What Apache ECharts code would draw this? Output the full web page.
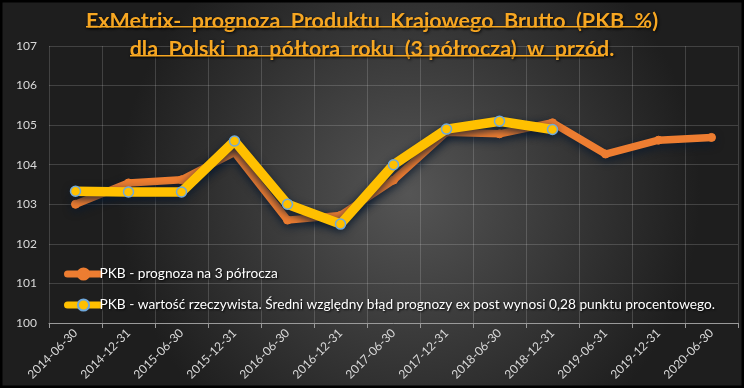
<!DOCTYPE html>
<html>
<head>
<meta charset="utf-8">
<script src="https://cdn.jsdelivr.net/npm/echarts@6/dist/echarts.min.js"></script>
<style>
html,body{margin:0;padding:0;background:#000;}
#c{width:744px;height:388px;}
</style>
</head>
<body>
<div id="c"></div>
<script>
var categories = ['2014-06-30','2014-12-31','2015-06-30','2015-12-31','2016-06-30','2016-12-31','2017-06-30','2017-12-31','2018-06-30','2018-12-31','2019-06-31','2019-12-31','2020-06-30'];
var prognoza = [103.0, 103.54, 103.62, 104.31, 102.6, 102.72, 103.61, 104.82, 104.78, 105.06, 104.27, 104.62, 104.69];
var rzeczywista = [103.33, 103.31, 103.31, 104.6, 103.0, 102.5, 104.0, 104.9, 105.1, 104.89, null, null, null];
var yTicks = {min: 100, max: 107, interval: 1};
var titleLines = ['ExMetrix-  prognoza  Produktu  Krajowego  Brutto  (PKB  %)', 'dla  Polski  na  półtora  roku  (3 półrocza)  w  przód.'];
var seriesNames = ['PKB - prognoza na 3 półrocza', 'PKB - wartość rzeczywista. Średni względny błąd prognozy ex post wynosi 0,28 punktu procentowego.'];

var chart = echarts.init(document.getElementById('c'));
var shadow = {shadowColor: 'rgba(10,25,45,0.9)', shadowBlur: 8, shadowOffsetY: 3};
var font = 'Lato, "Open Sans", sans-serif';
var titleStyle = {color: '#F7A722', fontSize: 21.5, fontWeight: 'bold', fontFamily: font,
  textShadowColor: 'rgba(0,0,0,0.85)', textShadowBlur: 3, textShadowOffsetX: 1, textShadowOffsetY: 1};
chart.setOption({
  backgroundColor: {
    type: 'radial', x: 0.55, y: 0.5, r: 0.75,
    colorStops: [{offset: 0, color: '#555555'}, {offset: 1, color: '#1e1e1e'}]
  },
  textStyle: {fontFamily: font},
  title: [
    {text: titleLines[0], left: 'center', top: 5, textStyle: titleStyle},
    {text: titleLines[1], left: 'center', top: 33, textStyle: titleStyle}
  ],
  graphic: [
    {type: 'rect', shape: {x: 86, y: 26, width: 559, height: 1.6}, style: {fill: '#F7A722', shadowColor: 'rgba(0,0,0,0.8)', shadowBlur: 2, shadowOffsetY: 1}, z: 10},
    {type: 'rect', shape: {x: 130, y: 55, width: 474, height: 1.6}, style: {fill: '#F7A722', shadowColor: 'rgba(0,0,0,0.8)', shadowBlur: 2, shadowOffsetY: 1}, z: 10},
    {type: 'rect', shape: {x: 1, y: 1, width: 742, height: 386}, style: {fill: 'none', stroke: '#000', lineWidth: 3}, z: 100, silent: true}
  ],
  grid: {left: 49, right: 6, top: 46, bottom: 65},
  legend: {
    orient: 'vertical', left: 59, top: 262, itemGap: 17,
    itemWidth: 32, itemHeight: 14,
    lineStyle: {width: 7, cap: 'round'},
    textStyle: {color: '#ffffff', fontSize: 13.7, padding: [0, 0, 0, -5],
      textShadowColor: 'rgba(0,0,0,0.9)', textShadowBlur: 2, textShadowOffsetX: 1, textShadowOffsetY: 1},
    data: [seriesNames[0], seriesNames[1]]
  },
  xAxis: {
    type: 'category', data: categories, boundaryGap: true,
    axisLine: {lineStyle: {color: '#9a9a9a', width: 1}},
    axisTick: {show: true, length: 5, lineStyle: {color: '#9a9a9a'}},
    splitLine: {show: true, lineStyle: {color: 'rgba(255,255,255,0.16)', width: 1}},
    axisLabel: {color: '#d9d9d9', fontSize: 12, rotate: 45, margin: 8, interval: 0}
  },
  yAxis: {
    type: 'value', min: yTicks.min, max: yTicks.max, interval: yTicks.interval,
    axisLine: {show: false}, axisTick: {show: false},
    splitLine: {lineStyle: {color: 'rgba(255,255,255,0.16)', width: 1}},
    axisLabel: {color: '#d9d9d9', fontSize: 12, margin: 12}
  },
  series: [{
    name: seriesNames[0], type: 'line', data: prognoza,
    symbol: 'circle', symbolSize: 8,
    lineStyle: Object.assign({color: '#ED7D31', width: 7.5, join: 'round', cap: 'round'}, shadow),
    itemStyle: {color: '#ED7D31', borderColor: '#ED7D31', borderWidth: 1},
    z: 2
  }, {
    name: seriesNames[1], type: 'line', data: rzeczywista,
    symbol: 'circle', symbolSize: 10,
    lineStyle: Object.assign({color: '#FFC000', width: 9.5, join: 'round', cap: 'round'}, shadow),
    itemStyle: {color: '#FFC000', borderColor: '#6FA8DC', borderWidth: 1.5},
    z: 3
  }]
});
</script>
</body>
</html>
